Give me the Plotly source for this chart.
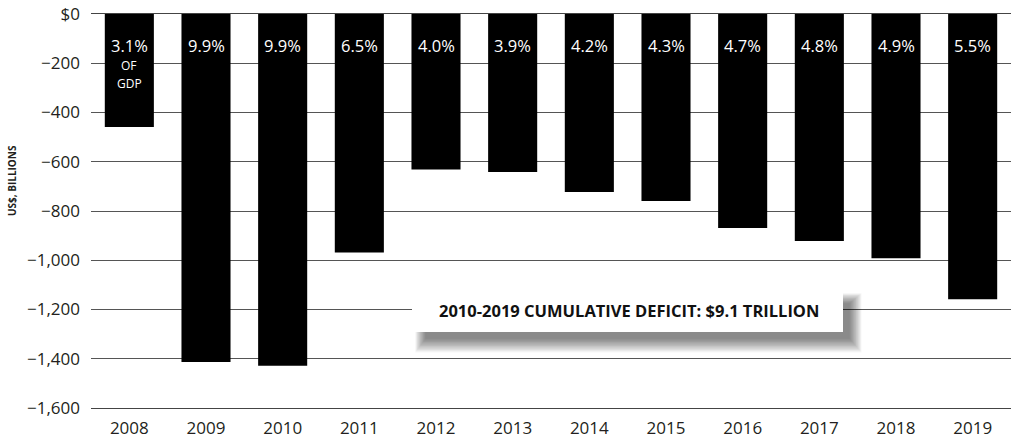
import plotly.graph_objects as go

years = ["2008", "2009", "2010", "2011", "2012", "2013", "2014", "2015", "2016", "2017", "2018", "2019"]
deficits = [-459, -1413, -1428, -969, -631, -642, -723, -759, -869, -922, -992, -1158]
pct_gdp = ["3.1%", "9.9%", "9.9%", "6.5%", "4.0%", "3.9%", "4.2%", "4.3%", "4.7%", "4.8%", "4.9%", "5.5%"]
first_label_sub = ["OF", "GDP"]
y_ticks = [0, -200, -400, -600, -800, -1000, -1200, -1400, -1600]
y_tick_labels = ["$0", "\u2212200", "\u2212400", "\u2212600", "\u2212800", "\u22121,000", "\u22121,200", "\u22121,400", "\u22121,600"]
callout = "2010-2019 CUMULATIVE DEFICIT: $9.1 TRILLION"
y_title = "US$, BILLIONS"

W, H = 1011, 447
L, R, T, B = 91, 0, 14, 39
PW, PH = W - L - R, H - T - B

def px(xp):
    return (xp - L) / PW

def py(yp):
    return (H - B - yp) / PH

FONT = "Open Sans"

fig = go.Figure()
fig.add_trace(go.Bar(x=years, y=deficits, marker=dict(color="#000000", line=dict(width=0)),
                     hoverinfo="skip"))

annotations = []
for i, p in enumerate(pct_gdp):
    annotations.append(dict(x=i, y=0, xref="x", yref="y", text=p, showarrow=False,
                            yanchor="middle", yshift=-31,
                            font=dict(family=FONT, size=16.5, color="white")))
for j, s in enumerate(first_label_sub):
    annotations.append(dict(x=0, y=0, xref="x", yref="y", text=s, showarrow=False,
                            yanchor="middle", yshift=-51 - 18 * j,
                            font=dict(family=FONT, size=12, color="white")))

# y-axis title
annotations.append(dict(x=px(12), y=py(181), xref="paper", yref="paper", text="<b>" + y_title + "</b>",
                        showarrow=False, textangle=-90, xanchor="center", yanchor="middle",
                        font=dict(family=FONT, size=10, color="#231f20")))

# callout box
bx0, bx1, by0, by1 = 412, 843, 288, 332
shapes = []
n = 18
for k in range(n):
    g = n - k
    shapes.append(dict(type="rect", xref="paper", yref="paper",
                       x0=px(bx0 + 14 - g * 0.6), x1=px(bx1 + 6 + g * 0.7),
                       y0=py(by1 + 6 + g * 0.8), y1=py(by0 + 16 - g * 0.6),
                       fillcolor="rgba(0,0,0,0.03)", line=dict(width=0), layer="above"))
shapes.append(dict(type="rect", xref="paper", yref="paper",
                   x0=px(bx0), x1=px(bx1), y0=py(by1), y1=py(by0),
                   fillcolor="white", line=dict(width=0), layer="above"))
annotations.append(dict(x=px((bx0 + bx1) / 2 + 1), y=py(310), xref="paper", yref="paper",
                        text="<b>" + callout + "</b>", showarrow=False,
                        xanchor="center", yanchor="middle",
                        font=dict(family=FONT, size=16.5, color="#111111")))

fig.update_layout(
    width=W, height=H,
    margin=dict(l=L, r=R, t=T, b=B, pad=0),
    paper_bgcolor="white", plot_bgcolor="white",
    bargap=0.36, showlegend=False,
    annotations=annotations, shapes=shapes,
    font=dict(family=FONT, color="#231f20"),
)
fig.update_xaxes(type="category", range=[-0.5, len(years) - 0.5], showgrid=False, showline=True,
                 mirror=True, linecolor="#444444",
                 linewidth=1, ticks="", zeroline=False,
                 tickfont=dict(family=FONT, size=17, color="#231f20"), ticklabelstandoff=5)
fig.update_yaxes(range=[-1600, 0], tickvals=y_ticks, ticktext=y_tick_labels,
                 showgrid=True, gridcolor="#555555", gridwidth=1, zeroline=False, showline=False,
                 ticks="", ticklabelstandoff=10,
                 tickfont=dict(family=FONT, size=17, color="#231f20"))

fig.write_html("out.html")
